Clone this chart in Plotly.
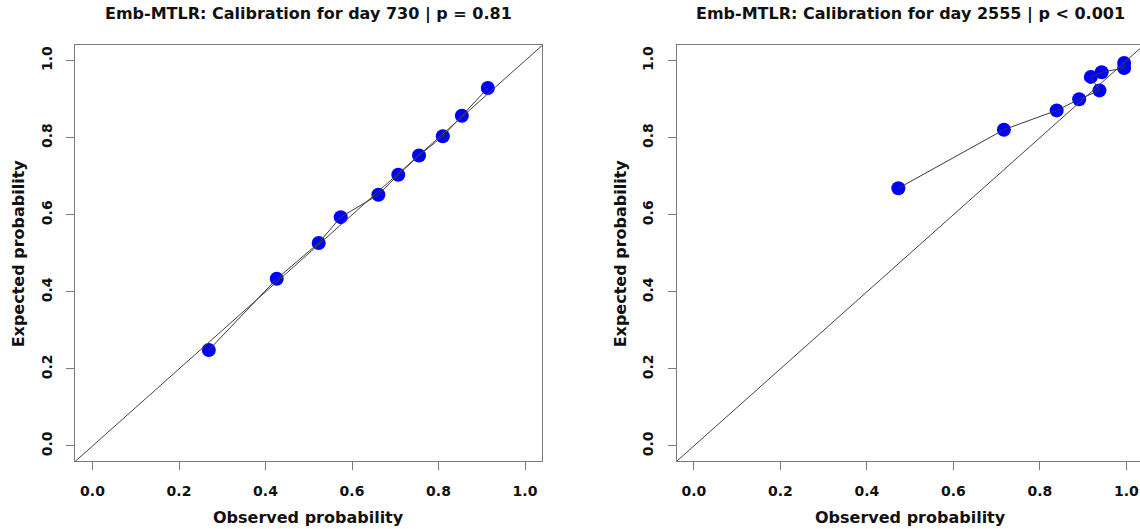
import plotly.graph_objects as go

# ---- data ----
obs_730 = [0.269, 0.426, 0.523, 0.574, 0.661, 0.707, 0.755, 0.810, 0.854, 0.914]
exp_730 = [0.249, 0.434, 0.527, 0.594, 0.652, 0.704, 0.754, 0.804, 0.857, 0.929]

obs_2555 = [0.473, 0.717, 0.839, 0.891, 0.938, 0.918, 0.943, 0.995, 0.995]
exp_2555 = [0.669, 0.821, 0.871, 0.900, 0.923, 0.958, 0.970, 0.981, 0.994]

titles = ["Emb-MTLR: Calibration for day 730 | p = 0.81",
          "Emb-MTLR: Calibration for day 2555 | p < 0.001"]
x_title = "Observed probability"
y_title = "Expected probability"
tick_vals = [0.0, 0.2, 0.4, 0.6, 0.8, 1.0]
tick_text = ["0.0", "0.2", "0.4", "0.6", "0.8", "1.0"]
diag = [-0.04, 1.04]

W, H = 1140, 529
FONT = "DejaVu Sans"
AX_COL = "#7a7a7a"

fig = go.Figure()

panels = [
    dict(obs=obs_730, exp=exp_730, xa="x", ya="y", title=titles[0]),
    dict(obs=obs_2555, exp=exp_2555, xa="x2", ya="y2", title=titles[1]),
]

for p in panels:
    fig.add_trace(go.Scatter(x=p["obs"], y=p["exp"], mode="markers",
                             marker=dict(color="#0000ff", size=14, line=dict(width=0)),
                             xaxis=p["xa"], yaxis=p["ya"], showlegend=False,
                             hoverinfo="skip"))
    fig.add_trace(go.Scatter(x=p["obs"], y=p["exp"], mode="lines",
                             line=dict(color="#3a3a3a", width=1),
                             xaxis=p["xa"], yaxis=p["ya"], showlegend=False,
                             hoverinfo="skip"))
    fig.add_trace(go.Scatter(x=diag, y=diag, mode="lines",
                             line=dict(color="#444444", width=1),
                             xaxis=p["xa"], yaxis=p["ya"], showlegend=False,
                             hoverinfo="skip"))

# pixel geometry
y_top, y_bot = 45.3, 461.4
yd = [1 - y_bot / H, 1 - y_top / H]
left_x0, left_x1 = 75.2, 542.3
right_x0 = 676.5
px_per_unit = (left_x1 - left_x0) / 1.08
right_range_max = -0.04 + (W - right_x0) / px_per_unit

common_tick = dict(
    tickmode="array", tickvals=tick_vals, ticktext=tick_text,
    ticks="outside", ticklen=8, tickwidth=1, tickcolor=AX_COL,
    showline=True, linecolor=AX_COL, linewidth=1,
    showgrid=False, zeroline=False,
    tickfont=dict(family=FONT, size=14, color="#111111", weight="bold"),
    ticklabelstandoff=9,
)

fig.update_layout(
    width=W, height=H,
    margin=dict(l=0, r=0, t=0, b=0),
    paper_bgcolor="white", plot_bgcolor="white",
    xaxis=dict(domain=[left_x0 / W, left_x1 / W], range=[-0.04, 1.04],
               mirror=True, anchor="y", **common_tick),
    yaxis=dict(domain=yd, range=[-0.04, 1.04], mirror=True, anchor="x",
               tickangle=-90, **common_tick),
    xaxis2=dict(domain=[right_x0 / W, 1.0], range=[-0.04, right_range_max],
                mirror=True, anchor="y2", **common_tick),
    yaxis2=dict(domain=yd, range=[-0.04, 1.04], mirror=False, anchor="x2",
                tickangle=-90, **common_tick),
)

ann = []
centers = [(left_x0 + left_x1) / 2, right_x0 + (left_x1 - left_x0) / 2]
ytitle_x = [18, 620]
for i, p in enumerate(panels):
    ann.append(dict(text=p["title"], x=centers[i] / W, y=1 - 14 / H,
                    xref="paper", yref="paper", xanchor="center", yanchor="middle",
                    showarrow=False,
                    font=dict(family=FONT, size=16, color="#111111", weight="bold")))
    ann.append(dict(text=x_title, x=centers[i] / W, y=1 - 517 / H,
                    xref="paper", yref="paper", xanchor="center", yanchor="middle",
                    showarrow=False,
                    font=dict(family=FONT, size=16, color="#111111", weight="bold")))
    ann.append(dict(text=y_title, x=ytitle_x[i] / W, y=1 - ((y_top + y_bot) / 2) / H,
                    xref="paper", yref="paper", xanchor="center", yanchor="middle",
                    textangle=-90, showarrow=False,
                    font=dict(family=FONT, size=16, color="#111111", weight="bold")))
fig.update_layout(annotations=ann)

fig.write_html("out.html",
               config={"displayModeBar": False, "staticPlot": True},
               post_script="document.body.style.margin='0px';document.body.style.overflow='hidden';")
